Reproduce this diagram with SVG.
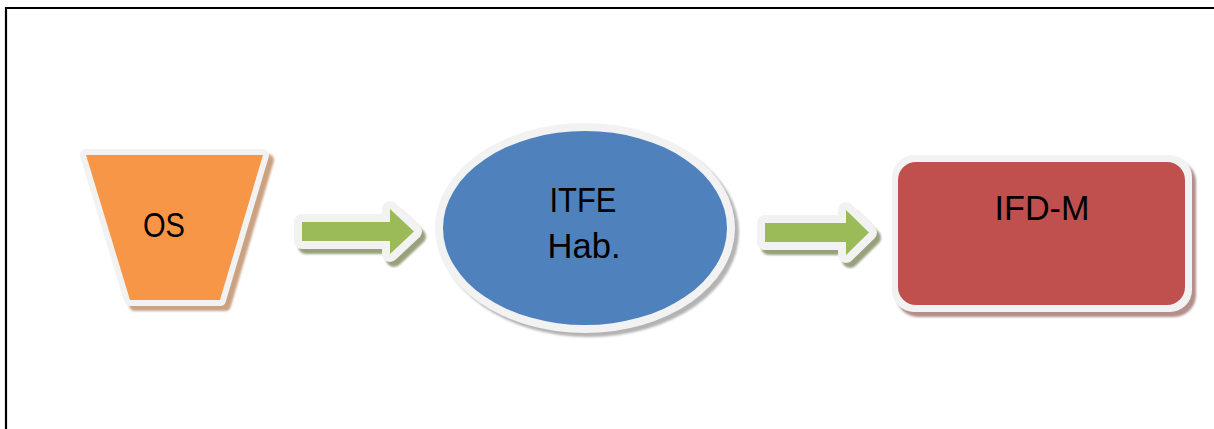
<svg xmlns="http://www.w3.org/2000/svg" width="1214" height="429" viewBox="0 0 1214 429">
  <defs>
    <filter id="sh" x="-10%" y="-10%" width="130%" height="130%">
      <feGaussianBlur stdDeviation="1.2"/>
    </filter>
    <style>
      .lbl { font-family: "Liberation Sans", Arial, sans-serif; font-size: 35px; fill: #000; text-anchor: middle; }
      .rim { fill: #f2f2f2; stroke: #f2f2f2; stroke-linejoin: round; }
      .arrow { fill: #9bbb59; }
      .arrowrim { fill: #f2f2f2; stroke: #f2f2f2; stroke-width: 16; stroke-linejoin: round; }
      .arrowsh { fill: #98a07c; stroke: #98a07c; stroke-width: 16; stroke-linejoin: round; filter: url(#sh); }
    </style>
  </defs>
  <rect width="1214" height="429" fill="#ffffff"/>
  <!-- frame -->
  <path d="M6 429 V8 H1214" fill="none" stroke="#000" stroke-width="2.2"/>

  <g id="connectors">
    <g id="arrow1">
      <polygon class="arrowsh" transform="translate(4,5)" points="302,222 390,222 390,209 414,231.5 390,254 390,241 302,241"/>
      <polygon class="arrowrim" points="302,222 390,222 390,209 414,231.5 390,254 390,241 302,241"/>
      <polygon class="arrow" points="302,222 390,222 390,209 414,231.5 390,254 390,241 302,241"/>
    </g>
    <g id="arrow2">
      <polygon class="arrowsh" transform="translate(4,5)" points="765,223 846,223 846,210 869,232.5 846,255 846,242 765,242"/>
      <polygon class="arrowrim" points="765,223 846,223 846,210 869,232.5 846,255 846,242 765,242"/>
      <polygon class="arrow" points="765,223 846,223 846,210 869,232.5 846,255 846,242 765,242"/>
    </g>
  </g>

  <g id="node-os">
    <polygon points="86,155 263,155 220,300 130,300" fill="#caa282" stroke="#caa282" stroke-width="12" stroke-linejoin="round" transform="translate(5,5)" filter="url(#sh)"/>
    <polygon class="rim" stroke-width="12" points="86,155 263,155 220,300 130,300"/>
    <polygon points="86,155 263,155 220,300 130,300" fill="#f79646"/>
    <text class="lbl" x="164" y="237" textLength="42" lengthAdjust="spacingAndGlyphs">OS</text>
  </g>

  <g id="node-itfe">
    <ellipse cx="589" cy="232" rx="150" ry="105" fill="#b3b3b3" filter="url(#sh)"/>
    <ellipse cx="585" cy="228" rx="150" ry="105" fill="#f2f2f2"/>
    <ellipse cx="585" cy="228" rx="142" ry="97" fill="#4f81bd"/>
    <text class="lbl" x="583" y="212" textLength="67" lengthAdjust="spacingAndGlyphs">ITFE</text>
    <text class="lbl" x="584" y="258" textLength="73" lengthAdjust="spacingAndGlyphs">Hab.</text>
  </g>

  <g id="node-ifdm">
    <rect x="896" y="160" width="300" height="157" rx="22" fill="#b38e8d" filter="url(#sh)"/>
    <rect x="892" y="155" width="300" height="157" rx="22" fill="#f2f2f2"/>
    <rect x="898" y="162" width="287" height="143" rx="18" fill="#c0504d"/>
    <text class="lbl" x="1042" y="220" textLength="95" lengthAdjust="spacingAndGlyphs">IFD-M</text>
  </g>
</svg>
